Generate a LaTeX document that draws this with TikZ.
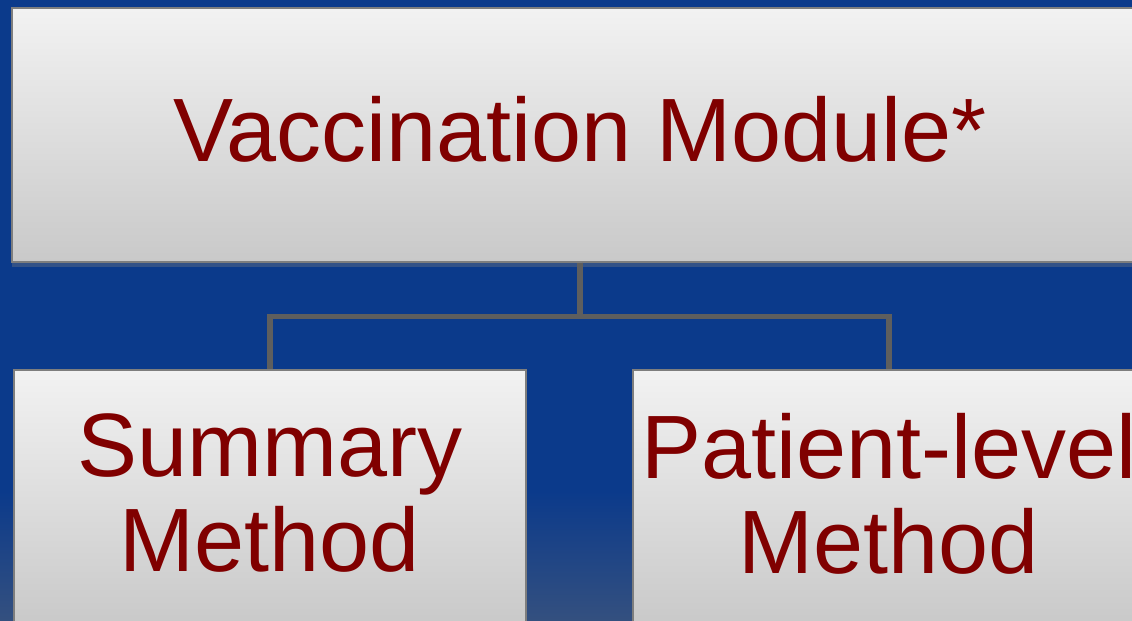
\documentclass[tikz,border=0pt]{standalone}
\usepackage{fontspec}
\setmainfont{Liberation Sans}
\usetikzlibrary{shadows}

\definecolor{slideblue}{HTML}{0B3A8B}
\definecolor{fadeblue}{HTML}{34507F}
\definecolor{titlered}{HTML}{800000}
\definecolor{boxtop}{HTML}{F2F2F2}
\definecolor{boxbottom}{HTML}{C9C9C9}
\definecolor{linkgray}{HTML}{5E5E5E}

\begin{document}
\begin{tikzpicture}[
  box/.style={rectangle, draw=linkgray!80, line width=0.4pt,
    top color=boxtop, bottom color=boxbottom,
    drop shadow={opacity=0.35, shadow xshift=0pt, shadow yshift=-1.5pt},
    text=titlered, align=center, inner sep=0pt,
    font=\fontsize{25.6}{27}\selectfont},
  link/.style={draw=linkgray, line width=1.5pt}
]
  \useasboundingbox (0,0) rectangle (11.32,6.21);
  \clip (0,0) rectangle (11.32,6.21);
  \fill[slideblue] (0,0) rectangle (11.32,6.21);
  \shade[top color=slideblue, bottom color=fadeblue] (0,0) rectangle (11.32,1.3);

  \node[box, minimum width=11.36cm, minimum height=2.54cm, text depth=0.13cm]
    (module) at (5.80,4.86) {Vaccination Module*};
  \node[box, minimum width=5.12cm, minimum height=2.54cm, text depth=0.08cm]
    (summary) at (2.70,1.24) {Summary\\Method};
  \node[box, minimum width=5.12cm, minimum height=2.54cm, text depth=0.08cm]
    (patient) at (8.89,1.24) {Patient-level\\Method};

  \draw[link] (module.south) -- ++(0,-0.54) -| (summary.north);
  \draw[link] (module.south) -- ++(0,-0.54) -| (patient.north);
\end{tikzpicture}
\end{document}
